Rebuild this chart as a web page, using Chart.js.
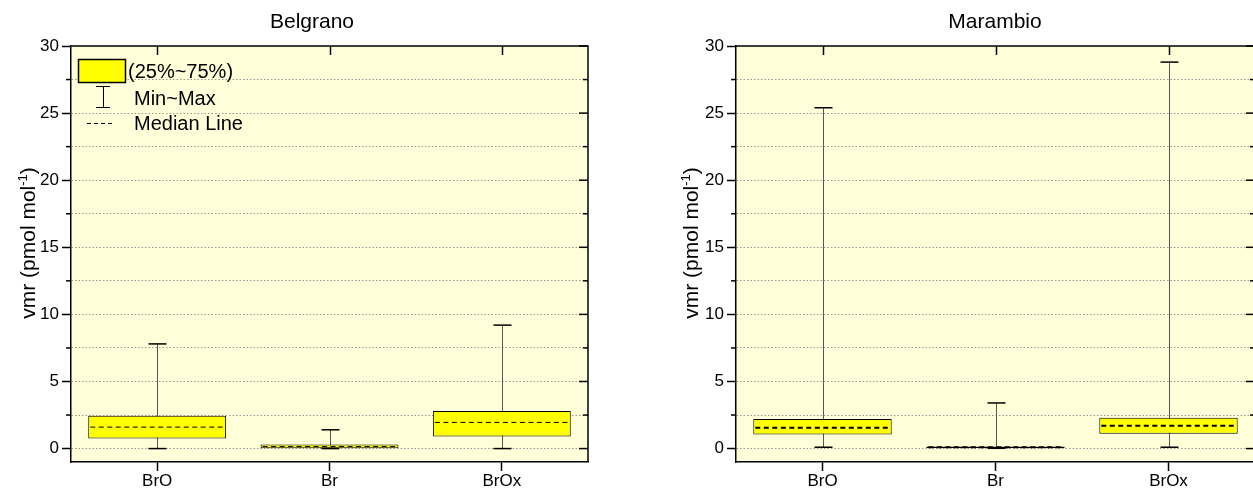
<!DOCTYPE html>
<html>
<head>
<meta charset="utf-8">
<script src="https://cdn.jsdelivr.net/npm/chart.js@4/dist/chart.umd.min.js"></script>
<style>
  html, body { margin: 0; padding: 0; background: #fff; overflow: hidden; width: 1253px; height: 495px; }
  .panel { position: absolute; top: 0; height: 495px; }
  #belgrano-wrap { left: 0; width: 626px; }
  #marambio-wrap { left: 626px; width: 738px; }
</style>
</head>
<body>
<div class="panel" id="belgrano-wrap"><canvas id="belgrano"></canvas></div>
<div class="panel" id="marambio-wrap"><canvas id="marambio"></canvas></div>
<script>
'use strict';

// ─── Data ────────────────────────────────────────────────
const categories = ['BrO', 'Br', 'BrOx'];

const belgranoMin    = [0.0, 0.0, 0.0];
const belgranoQ1     = [0.75, 0.02, 0.9];
const belgranoMedian = [1.6, 0.15, 1.95];
const belgranoQ3     = [2.45, 0.3, 2.8];
const belgranoMax    = [7.8, 1.4, 9.2];

const marambioMin    = [0.1, 0.02, 0.1];
const marambioQ1     = [1.05, 0.04, 1.1];
const marambioMedian = [1.55, 0.1, 1.7];
const marambioQ3     = [2.2, 0.16, 2.3];
const marambioMax    = [25.4, 3.4, 28.8];

const yMajorTicks = [0, 5, 10, 15, 20, 25, 30];
const yMinorTicks = [2.5, 7.5, 12.5, 17.5, 22.5, 27.5];

// ─── Styling ─────────────────────────────────────────────
const FONT = "'Liberation Sans', Arial, sans-serif";
const PLOT_BG = '#FFFFD9';
const BOX_FILL = '#FFFF00';

// plot area background
const plotBg = {
  id: 'plotBg',
  beforeDraw(chart) {
    const { ctx, chartArea: a } = chart;
    ctx.save();
    ctx.fillStyle = PLOT_BG;
    ctx.fillRect(a.left, a.top, a.width, a.height);
    ctx.restore();
  },
};

// panel title and rotated y-axis title (with a real superscript)
const panelText = {
  id: 'panelText',
  afterDraw(chart, args, opts) {
    const c = chart.ctx;
    c.save();
    c.fillStyle = '#000';
    c.font = `21px ${FONT}`;
    c.textAlign = 'center';
    c.textBaseline = 'alphabetic';
    c.fillText(opts.title, opts.titleX, 27.5);

    const parts = [
      { t: 'vmr (pmol mol', size: 21, rise: 0 },
      { t: '-1', size: 13, rise: 8 },
      { t: ')', size: 21, rise: 0 },
    ];
    const widths = parts.map(p => { c.font = `${p.size}px ${FONT}`; return c.measureText(p.t).width; });
    const total = widths.reduce((s, w) => s + w, 0);
    c.translate(opts.yTitleX, opts.yTitleY);
    c.rotate(-Math.PI / 2);
    c.textAlign = 'left';
    let px = -total / 2;
    parts.forEach((p, i) => {
      c.font = `${p.size}px ${FONT}`;
      c.fillText(p.t, px, 7.5 - p.rise);
      px += widths[i];
    });
    c.restore();
  },
};

// whiskers behind the boxes, caps + dashed medians on top
const whiskers = {
  id: 'whiskers',
  beforeDatasetsDraw(chart) {
    const ds = chart.data.datasets[0];
    const y = chart.scales.y;
    const c = chart.ctx;
    c.save();
    c.strokeStyle = '#555';
    c.lineWidth = 1;
    chart.getDatasetMeta(0).data.forEach((bar, i) => {
      const x = Math.round(bar.x) + 0.5;
      c.beginPath();
      c.moveTo(x, y.getPixelForValue(ds.stats.max[i]));
      c.lineTo(x, y.getPixelForValue(ds.stats.min[i]));
      c.stroke();
    });
    c.restore();
  },
  afterDatasetsDraw(chart) {
    const ds = chart.data.datasets[0];
    const y = chart.scales.y;
    const c = chart.ctx;
    c.save();
    chart.getDatasetMeta(0).data.forEach((bar, i) => {
      const x = Math.round(bar.x) + 0.5;
      // caps
      c.strokeStyle = '#000';
      c.lineWidth = 1.5;
      c.setLineDash([]);
      [ds.stats.max[i], ds.stats.min[i]].forEach(v => {
        const py = y.getPixelForValue(v);
        c.beginPath(); c.moveTo(x - 9, py); c.lineTo(x + 9, py); c.stroke();
      });
      // median
      const my = y.getPixelForValue(ds.stats.median[i]);
      c.lineWidth = ds.stats.medianWidth;
      c.setLineDash([5, 3.5]);
      c.beginPath();
      c.moveTo(bar.x - bar.width / 2 + 2, my);
      c.lineTo(bar.x + bar.width / 2 - 1, my);
      c.stroke();
    });
    c.restore();
  },
};

// closed frame: top/right lines, inward ticks, short minor ticks on the left
const frame = {
  id: 'frame',
  afterDraw(chart) {
    const { ctx: c, chartArea: a, scales: { x, y } } = chart;
    c.save();
    c.strokeStyle = '#000';
    c.lineWidth = 1.5;
    c.beginPath();
    c.moveTo(a.left, a.top); c.lineTo(a.right, a.top); c.lineTo(a.right, a.bottom);
    c.stroke();
    categories.forEach((_, i) => {
      const px = Math.round(x.getPixelForValue(i)) + 0.5;
      c.beginPath(); c.moveTo(px, a.top); c.lineTo(px, a.top + 9); c.stroke();
    });
    yMajorTicks.forEach(v => {
      const py = y.getPixelForValue(v);
      c.beginPath(); c.moveTo(a.right, py); c.lineTo(a.right - 9, py); c.stroke();
    });
    yMinorTicks.forEach(v => {
      const py = y.getPixelForValue(v);
      c.beginPath(); c.moveTo(a.right, py); c.lineTo(a.right - 5, py); c.stroke();
      c.beginPath(); c.moveTo(a.left, py); c.lineTo(a.left - 5, py); c.stroke();
    });
    c.restore();
  },
};

// legend box drawn in the upper-left corner of the Belgrano plot
const boxLegend = {
  id: 'boxLegend',
  afterDraw(chart) {
    const c = chart.ctx;
    c.save();
    c.fillStyle = BOX_FILL;
    c.fillRect(78, 59, 48, 24);
    c.strokeStyle = '#000';
    c.lineWidth = 1.5;
    c.strokeRect(78.5, 59.5, 47, 23);

    c.lineWidth = 1;
    c.beginPath();
    c.moveTo(96, 86.5); c.lineTo(110, 86.5);
    c.moveTo(103.5, 86.5); c.lineTo(103.5, 107.5);
    c.moveTo(96, 107.5); c.lineTo(110, 107.5);
    c.stroke();

    c.setLineDash([4, 3]);
    c.beginPath(); c.moveTo(87, 123.5); c.lineTo(114, 123.5); c.stroke();
    c.setLineDash([]);

    c.fillStyle = '#000';
    c.font = `20px ${FONT}`;
    c.textBaseline = 'middle';
    c.fillText('(25%~75%)', 128, 72);
    c.fillText('Min~Max', 134, 99);
    c.fillText('Median Line', 134, 124);
    c.restore();
  },
};

function makePanel(id, text, stats, axisWidth, padRight, extraPlugins) {
  return new Chart(document.getElementById(id), {
    type: 'bar',
    data: {
      labels: categories,
      datasets: [{
        data: stats.q1.map((v, i) => [v, stats.q3[i]]),
        backgroundColor: BOX_FILL,
        borderColor: '#000',
        borderWidth: 1,
        borderSkipped: false,
        barPercentage: 0.8,
        categoryPercentage: 1,
        stats,
      }],
    },
    options: {
      responsive: true,
      maintainAspectRatio: false,
      animation: false,
      layout: { padding: { left: 0, right: padRight, top: 46, bottom: 0 } },
      plugins: {
        legend: { display: false },
        tooltip: { enabled: false },
        panelText: text,
      },
      scales: {
        x: {
          offset: true,
          grid: { drawOnChartArea: false, offset: false, tickLength: 9, tickColor: '#000', tickWidth: 1.5 },
          border: { color: '#000', width: 1.5 },
          ticks: { color: '#000', font: { family: FONT, size: 17 }, padding: 0 },
          afterFit: s => { s.height = 33; },
        },
        y: {
          min: -1,
          max: 30,
          afterBuildTicks: s => {
            s.ticks = [...yMajorTicks, ...yMinorTicks].sort((a, b) => a - b).map(v => ({ value: v }));
          },
          ticks: {
            autoSkip: false,
            color: '#000',
            font: { family: FONT, size: 17 },
            padding: 3,
            callback: v => (yMajorTicks.includes(v) ? String(v) : ''),
          },
          grid: {
            color: ctx => (ctx.tick && ctx.tick.value === 30 ? 'transparent' : 'rgba(140,140,140,0.9)'),
            lineWidth: 1,
            tickLength: 9,
            tickWidth: 1.5,
            tickColor: ctx => (ctx.tick && yMajorTicks.includes(ctx.tick.value) ? '#000' : 'transparent'),
          },
          border: { color: '#000', width: 1.5, dash: [1.5, 2] },
          afterFit: s => { s.width = axisWidth; },
        },
      },
    },
    plugins: [plotBg, whiskers, frame, panelText, ...extraPlugins],
  });
}

makePanel('belgrano',
  { title: 'Belgrano', titleX: 312, yTitleX: 27, yTitleY: 243 },
  { min: belgranoMin, q1: belgranoQ1, median: belgranoMedian, q3: belgranoQ3, max: belgranoMax, medianWidth: 1 },
  71, 38, [boxLegend]);

makePanel('marambio',
  { title: 'Marambio', titleX: 369, yTitleX: 64, yTitleY: 243 },
  { min: marambioMin, q1: marambioQ1, median: marambioMedian, q3: marambioQ3, max: marambioMax, medianWidth: 2 },
  110, 109, []);
</script>
</body>
</html>
